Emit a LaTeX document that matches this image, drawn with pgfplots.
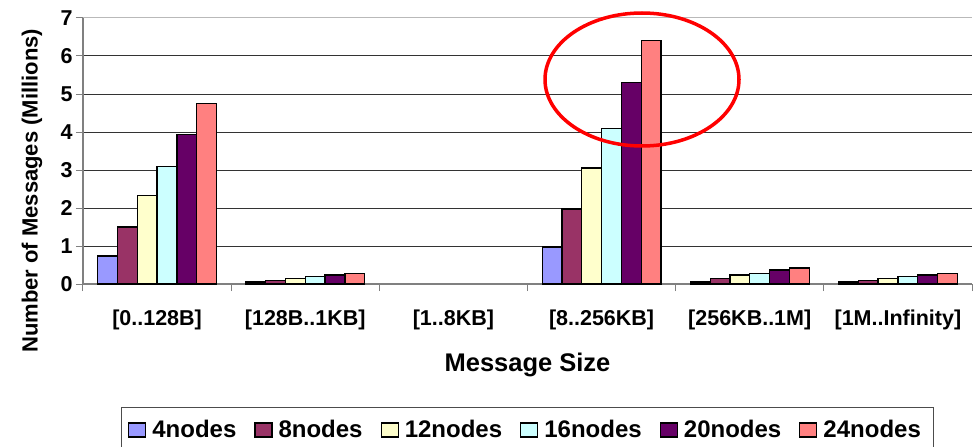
\documentclass[border=0pt]{standalone}
\usepackage{pgfplots}
\pgfplotsset{compat=1.18}
\usepackage{fontspec}
\setmainfont{Liberation Sans}
\definecolor{c4}{HTML}{9999FF}
\definecolor{c8}{HTML}{993366}
\definecolor{c12}{HTML}{FFFFCC}
\definecolor{c16}{HTML}{CCFFFF}
\definecolor{c20}{HTML}{660066}
\definecolor{c24}{HTML}{FF8080}
\definecolor{axgray}{HTML}{808080}
\newcommand\tl{\fontsize{21.5bp}{25bp}\selectfont\bfseries}
\newcommand\yl{\fontsize{22bp}{26bp}\selectfont\bfseries}
\newcommand\lf{\fontsize{24bp}{28bp}\selectfont\bfseries}
\newcommand\xl{\fontsize{25.5bp}{30bp}\selectfont\bfseries}
\begin{document}
\begin{tikzpicture}
\begin{axis}[name=ax,
  width=889bp, height=266bp, scale only axis,
  xmin=-0.5, xmax=5.5, ymin=0, ymax=7,
  clip=false,
  ybar=0pt, bar width=19.8bp,
  axis x line*=bottom, axis y line*=left,
  axis line style={draw=axgray, line width=1.3bp},
  tick align=outside, major tick length=7bp,
  tick style={draw=axgray, line width=1bp},
  /pgf/number format/assume math mode=true,
  ytick={0,...,7},
  yticklabel style={font=\tl},
  xtick={-0.5,0.5,1.5,2.5,3.5,4.5,5.5},
  xticklabels={},
  extra x ticks={0,1,2,3,4,5},
  extra x tick labels={[0..128B],[128B..1KB],[1..8KB],[8..256KB],[256KB..1M],[1M..Infinity]},
  extra x tick style={major tick length=0pt, xticklabel style={font=\tl, yshift=-22bp}},
  ymajorgrids,
  major grid style={draw=black!80, line width=1bp},
  xlabel={Message Size},
  xlabel style={font=\xl, at={(axis description cs:0.5,-0.303)}, anchor=center},
  ylabel={Number of Messages (Millions)},
  ylabel style={font=\yl, at={(axis description cs:-0.0574,0.35)}, anchor=center},
  legend columns=6,
  legend style={at={(axis description cs:0.5,-0.4624)}, anchor=north,
    draw=black!70, line width=1bp, font=\lf, inner xsep=7bp, inner ysep=8bp,
    nodes={inner xsep=6bp, inner ysep=5bp},
    /tikz/every even column/.append style={column sep=12bp}},
  legend image code/.code={\draw[#1, draw=black, line width=1.2bp] (0bp,-7bp) rectangle (17bp,7bp);},
]
\addplot[fill=c4, draw=black, line width=1.3bp] coordinates {(0,0.74) (1,0.05) (3,0.97) (4,0.05) (5,0.05)};
\addplot[fill=c8, draw=black, line width=1.3bp] coordinates {(0,1.50) (1,0.10) (3,1.97) (4,0.15) (5,0.10)};
\addplot[fill=c12, draw=black, line width=1.3bp] coordinates {(0,2.32) (1,0.14) (3,3.05) (4,0.24) (5,0.14)};
\addplot[fill=c16, draw=black, line width=1.3bp] coordinates {(0,3.10) (1,0.20) (3,4.10) (4,0.28) (5,0.20)};
\addplot[fill=c20, draw=black, line width=1.3bp] coordinates {(0,3.93) (1,0.24) (3,5.31) (4,0.37) (5,0.24)};
\addplot[fill=c24, draw=black, line width=1.3bp] coordinates {(0,4.75) (1,0.28) (3,6.40) (4,0.42) (5,0.28)};
\legend{4nodes,8nodes,12nodes,16nodes,20nodes,24nodes}
\end{axis}
\draw[gray!55, line width=1bp] (ax.north west) -- (ax.north east);
\draw[red, line width=3.5bp] ([shift={(559bp,204.5bp)}]ax.south west) ellipse [x radius=97bp, y radius=66.5bp];
\pgfresetboundingbox
\path ([xshift=-83bp,yshift=-163bp]ax.south west) rectangle ++(976bp,447bp);
\end{tikzpicture}
\end{document}
